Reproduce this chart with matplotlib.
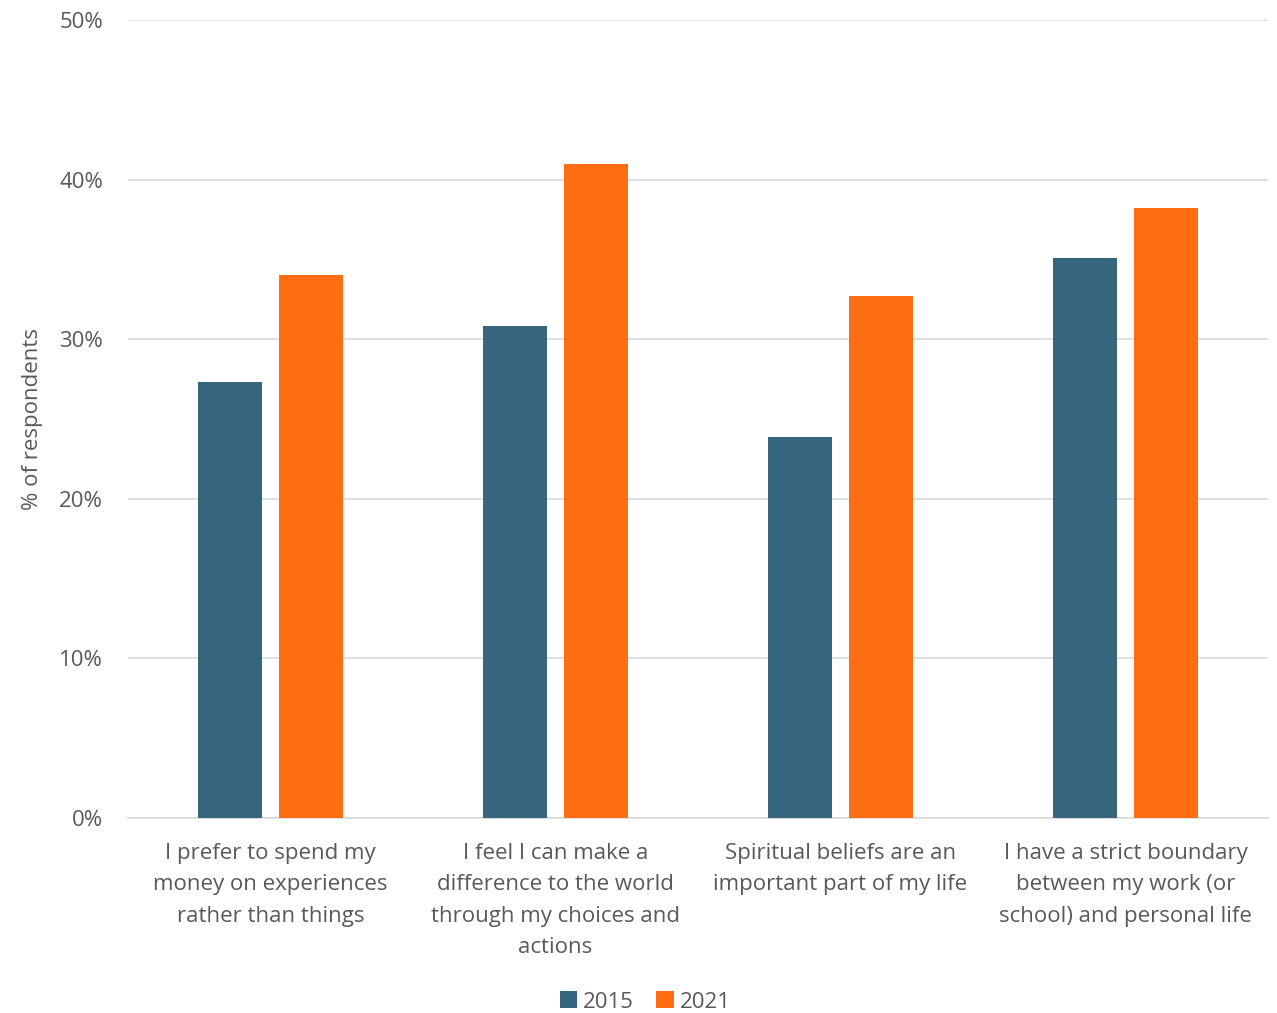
import matplotlib.pyplot as plt
import numpy as np
from matplotlib.ticker import FuncFormatter

CATEGORIES = [
    "I prefer to spend my\nmoney on experiences\nrather than things",
    "I feel I can make a\ndifference to the world\nthrough my choices and\nactions",
    "Spiritual beliefs are an\nimportant part of my life",
    "I have a strict boundary\nbetween my work (or\nschool) and personal life",
]
SERIES_2015 = [27.3, 30.8, 23.9, 35.1]
SERIES_2021 = [34.0, 41.0, 32.7, 38.2]
YEARS = ["2015", "2021"]

COLOR_2015 = "#35667E"
COLOR_2021 = "#FF6D13"
TEXT_COLOR = "#595959"
GRID_COLOR = "#D9D9D9"

plt.rcParams["font.family"] = ["Open Sans", "DejaVu Sans"]

fig = plt.figure(figsize=(12.77, 10.13), dpi=100)
ax = fig.add_axes([128 / 1277, 1 - 818 / 1013, 1140 / 1277, 798 / 1013])

x = np.arange(len(CATEGORIES))
width = 0.225
offset = 0.142
ax.bar(x - offset, SERIES_2015, width, color=COLOR_2015, label=YEARS[0], zorder=3)
ax.bar(x + offset, SERIES_2021, width, color=COLOR_2021, label=YEARS[1], zorder=3)

ax.set_xlim(-0.5, len(CATEGORIES) - 0.5)
ax.set_ylim(0, 50)
ax.set_yticks(np.arange(0, 51, 10))
ax.yaxis.set_major_formatter(FuncFormatter(lambda v, _: f"{v:.0f}%"))
ax.grid(axis="y", color=GRID_COLOR, linewidth=1.2, zorder=0)

ax.set_xticks(x)
ax.set_xticklabels(CATEGORIES, fontsize=16, color=TEXT_COLOR, linespacing=1.65, va="top")
ax.tick_params(axis="x", length=0, pad=18)
ax.tick_params(axis="y", length=0, pad=18, labelsize=16, labelcolor=TEXT_COLOR)

for side in ["top", "right", "left"]:
    ax.spines[side].set_visible(False)
ax.spines["bottom"].set_color(GRID_COLOR)
ax.spines["bottom"].set_linewidth(1.2)

ax.set_ylabel("% of respondents", fontsize=16, color=TEXT_COLOR)
ax.yaxis.set_label_coords(-85 / 1140, 0.5)

fig.legend(
    loc="center",
    bbox_to_anchor=(645 / 1277, 1 - 1002 / 1013),
    ncol=2,
    frameon=False,
    fontsize=16,
    labelcolor=TEXT_COLOR,
    handlelength=0.8,
    handleheight=0.8,
    handletextpad=0.25,
    columnspacing=1.0,
)

fig.savefig("out.png", dpi=100)
